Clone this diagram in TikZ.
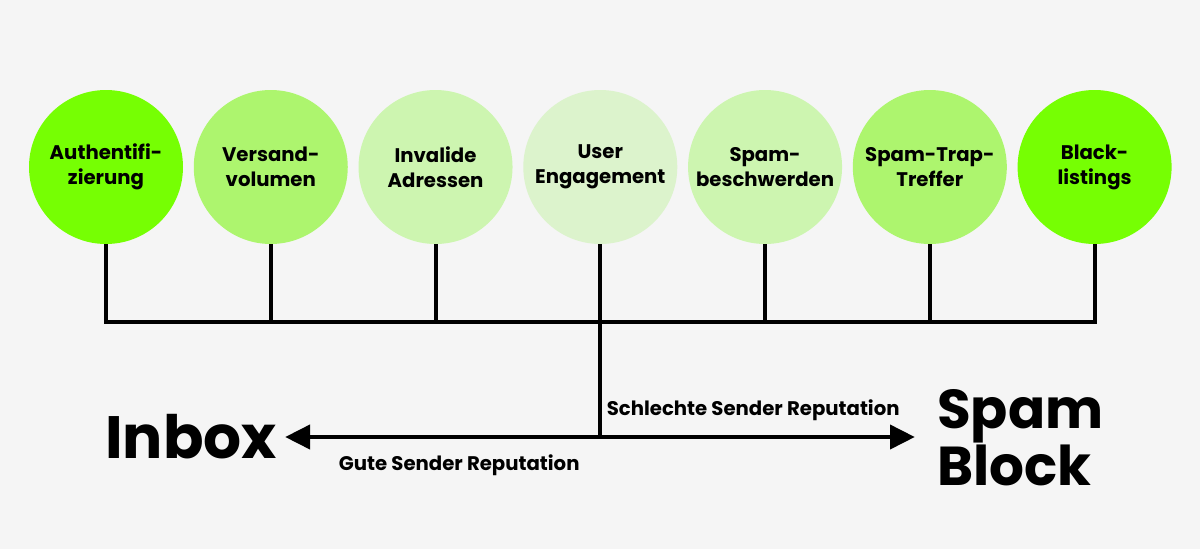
\documentclass[tikz,border=0pt]{standalone}
\usepackage{fontspec}
\setmainfont{Poppins}
\usetikzlibrary{arrows.meta,positioning}
\definecolor{paper}{HTML}{F5F5F5}
\definecolor{greenA}{HTML}{76FF03}
\definecolor{greenB}{HTML}{ADF56E}
\definecolor{greenC}{HTML}{CDF5B0}
\definecolor{greenD}{HTML}{DCF3CC}
\tikzset{
    >={Triangle[length=0.62cm,width=0.6cm]},
    wire/.style={line width=2.8pt,line join=miter},
    factor/.style={circle,minimum size=3.85cm,inner sep=0pt,align=center,
        font=\bfseries\fontsize{14}{17.8}\selectfont}
}

\begin{document}
\begin{tikzpicture}[
        node distance=0.255cm,
        bigword/.style={inner sep=0pt,align=left,font=\bfseries\fontsize{42.5}{40.5}\selectfont},
        caption/.style={inner sep=0pt,font=\bfseries\fontsize{14}{16}\selectfont}]

    % background and page size
    \fill[paper] (0,0) rectangle (30,13.725);

    % the seven factors
    \node[factor,fill=greenA] (auth) at (2.65,9.55) {Authentifi-\\zierung};
    \node[factor,fill=greenB,right=of auth] (vol) {Versand-\\volumen};
    \node[factor,fill=greenC,right=of vol] (inv) {Invalide\\Adressen};
    \node[factor,fill=greenD,right=of inv] (eng) {User\\Engagement};
    \node[factor,fill=greenC,right=of eng] (beschw) {Spam-\\beschwerden};
    \node[factor,fill=greenB,right=of beschw] (trap) {Spam-Trap-\\Treffer};
    \node[factor,fill=greenA,right=of trap] (black) {Black-\\listings};

    \coordinate (hub) at (eng |- 0,5.675);
    \coordinate (split) at (eng |- 0,2.8);

    % outcomes
    \node[bigword,anchor=east] (inbox) at (6.93,2.8) {Inbox};
    \node[bigword,anchor=west,font=\bfseries\fontsize{39}{40}\selectfont] (spam) at (23.42,2.78) {Spam\\Block};
    \node[caption] (bad) at (18.83,3.48) {Schlechte Sender Reputation};
    \node[caption] (good) at (11.48,2.1) {Gute Sender Reputation};

    % collector
    \draw[wire] (auth.south) -- (auth.south |- hub) -- (black.south |- hub) -- (black.south);
    \draw[wire] (vol.south) -- (vol.south |- hub);
    \draw[wire] (inv.south) -- (inv.south |- hub);
    \draw[wire] (eng.south) -- (split);
    \draw[wire] (beschw.south) -- (beschw.south |- hub);
    \draw[wire] (trap.south) -- (trap.south |- hub);

    % arrows
    \draw[wire,->,shorten >=0.2cm] (split) -- (inbox.east |- split);
    \draw[wire,->,shorten >=0.55cm] (split) -- (spam.west |- split);
\end{tikzpicture}
\end{document}
